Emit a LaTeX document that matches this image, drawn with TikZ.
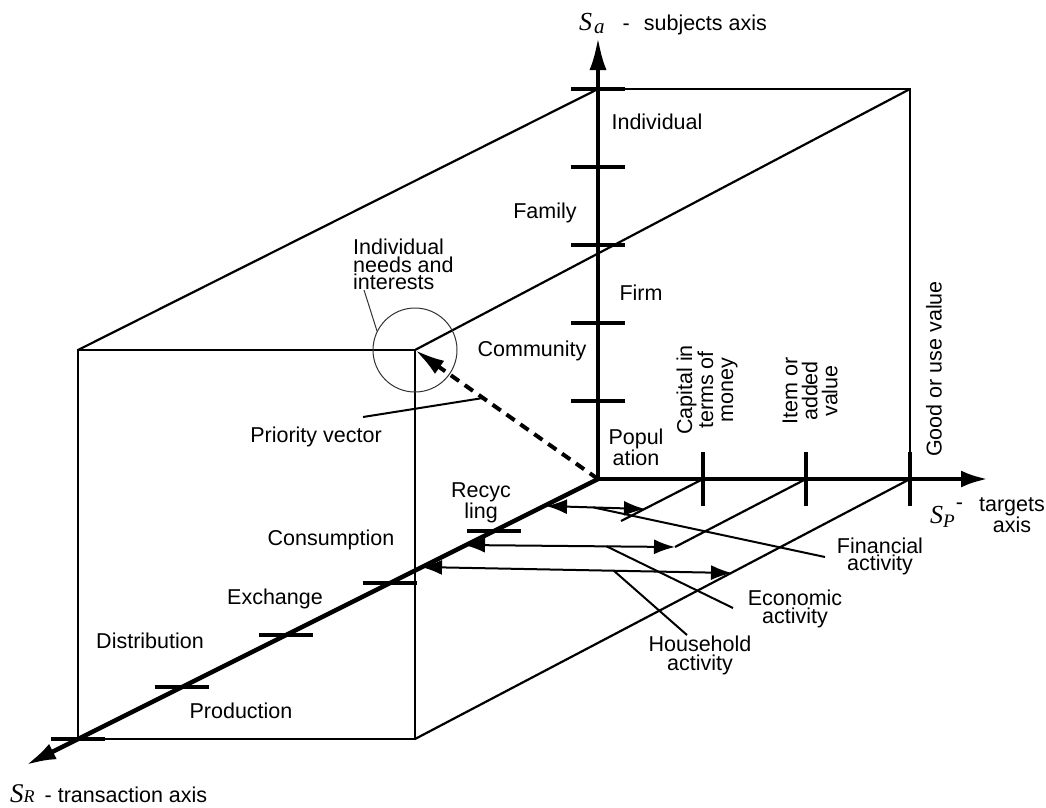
\documentclass[tikz,border=0pt]{standalone}
\usepackage{fontspec}
\setmainfont{Liberation Sans}
\newfontfamily\tms{Liberation Serif}
\usetikzlibrary{arrows.meta,calc}
\begin{document}
\begin{tikzpicture}[x=1pt,y=-1pt,
  every node/.style={inner sep=0pt,font=\fontsize{21.5}{17}\selectfont},
  boxline/.style={line width=2.2pt},
  axisline/.style={line width=4.5pt},
  tickline/.style={line width=4.5pt},
  thinline/.style={line width=2pt},
  circline/.style={line width=1pt,black!80},
  dbl/.style={thinline,{Latex[length=21pt,width=15pt]}-{Latex[length=21pt,width=15pt]}},
  lbl/.style={anchor=base},
  mlbl/.style={anchor=north,align=center},
  rlbl/.style={rotate=90,align=center,font=\fontsize{21.5}{20}\selectfont}
]
\useasboundingbox (0,0) rectangle (1046,807);
% key points
\coordinate (O) at (598,479);
\coordinate (Atop) at (598,89);
\coordinate (Atip) at (598,37);
\coordinate (Ptip) at (988,479);
\coordinate (B) at (910,89);
\coordinate (C) at (910,479);
\coordinate (F1) at (78,350);
\coordinate (F2) at (415,350);
\coordinate (F3) at (415,739);
\coordinate (F4) at (78,739);
\coordinate (Rtip) at ($(O)!1.1!(F4)$);
\coordinate (T1) at (703,479);
\coordinate (T2) at (806,479);
\coordinate (D1) at (621,521);
\coordinate (D2) at (675,547);
% box
\draw[boxline] (F1) rectangle (F3);
\draw[boxline] (Atop) -- (F1);
\draw[boxline] (B) -- (F2);
\draw[boxline] (C) -- (F3);
\draw[boxline] (Atop) -- (B) -- (C);
\draw[boxline] (T1) -- (D1);
\draw[boxline] (T2) -- (D2);
% axes
\draw[axisline,-{Latex[length=33pt,width=17pt]}] (O) -- (Atip);
\draw[axisline,-{Latex[length=27pt,width=17pt]}] (O) -- (Ptip);
\draw[axisline,-{Latex[length=30pt,width=17pt]}] (O) -- (Rtip);
% ticks
\foreach \k in {1,...,5} \draw[tickline] ($(O)+(-27,-78*\k)$) -- ++(54,0);
\foreach \t in {0.2,0.4,0.6,0.8,1.0} \draw[tickline] ($(O)!\t!(F4)+(-27,0)$) -- ++(54,0);
\foreach \p in {T1,T2,C} \draw[tickline] ($(\p)+(0,-27)$) -- ++(0,54);
% activity arrows
\coordinate (L1) at (546,506);
\coordinate (R1) at (645,509);
\coordinate (L2) at (464,545);
\coordinate (L3) at (421,567);
\coordinate (R3) at (732,573);
\draw[dbl] (L1) -- (R1);
\draw[dbl] (L2) -- (D2);
\draw[dbl] (L3) -- (R3);
% priority vector
\draw[line width=4pt,dash pattern=on 10pt off 7pt,-{Latex[length=30pt,width=16pt]}] (O) -- (F2);
\draw[circline] (F2) circle[radius=42];
% labels
\node[lbl,anchor=base west] (sa) at (579,30) {{\tms\itshape\fontsize{26}{26}\selectfont S\hspace{2pt}\raisebox{-3pt}{\fontsize{21}{21}\selectfont a}}\hspace{18pt}-\hspace{14pt}subjects axis};
\node[lbl,anchor=base west] (sp) at (930,523) {{\tms\itshape\fontsize{26}{26}\selectfont S\raisebox{-4pt}{\fontsize{19}{19}\selectfont P}}\hspace{1pt}\raisebox{14pt}{-}};
\node[mlbl,font=\fontsize{21.5}{16}\selectfont] (spt) at (1012,497) {targets\\axis};
\node[lbl,anchor=base west] (sr) at (10,802) {{\tms\itshape\fontsize{27}{27}\selectfont S\fontsize{18}{18}\selectfont R}\hspace{10pt}- transaction axis};

\node[lbl] (ind) at (657,129) {Individual};
\node[lbl] (fam) at (545,218) {Family};
\node[lbl] (firm) at (641,300) {Firm};
\node[lbl] (com) at (532,356) {Community};
\node[mlbl,font=\fontsize{21.5}{16}\selectfont] (pop) at (636,429) {Popul\\ation};
\node[rlbl] (cap) at (707,390) {Capital in\\terms of\\money};
\node[rlbl] (item) at (810,391) {Item or\\added\\value};
\node[rotate=90,anchor=west] (good) at (934,457) {Good or use value};

\node[mlbl,font=\fontsize{21.5}{17.5}\selectfont] (rec) at (481,482) {Recyc\\ling};
\node[lbl] (cons) at (331,545) {Consumption};
\node[lbl] (exch) at (275,604) {Exchange};
\node[lbl] (dist) at (150,648) {Distribution};
\node[lbl] (prod) at (241,718) {Production};

\node[anchor=north west,align=left,font=\fontsize{21.5}{17.5}\selectfont] (need) at (353,239) {Individual\\needs and\\interests};
\node[lbl] (prio) at (316,442) {Priority vector};

\node[mlbl] (fin) at (880,538) {Financial\\activity};
\node[mlbl,font=\fontsize{21.5}{18}\selectfont] (eco) at (795,590) {Economic\\activity};
\node[mlbl,font=\fontsize{21.5}{19}\selectfont] (hou) at (700,636) {Household\\activity};

% leaders
\coordinate (finA) at ($(L1)!0.48!(R1)$);
\coordinate (finB) at (825,557);
\coordinate (ecoA) at ($(L2)!0.676!(D2)$);
\coordinate (ecoB) at (733,608);
\coordinate (houA) at ($(L3)!0.62!(R3)$);
\coordinate (houB) at (687,635);
\coordinate (prA) at ($(O)!0.628!(F2)$);
\coordinate (prB) at (363,417);
\coordinate (ndA) at (377,331);
\coordinate (ndB) at (364,290);
\draw[thinline] (finA) -- (finB);
\draw[thinline] (ecoA) -- (ecoB);
\draw[thinline] (houA) -- (houB);
\draw[thinline] (prA) -- (prB);
\draw[circline] (ndA) -- (ndB);
\end{tikzpicture}
\end{document}
